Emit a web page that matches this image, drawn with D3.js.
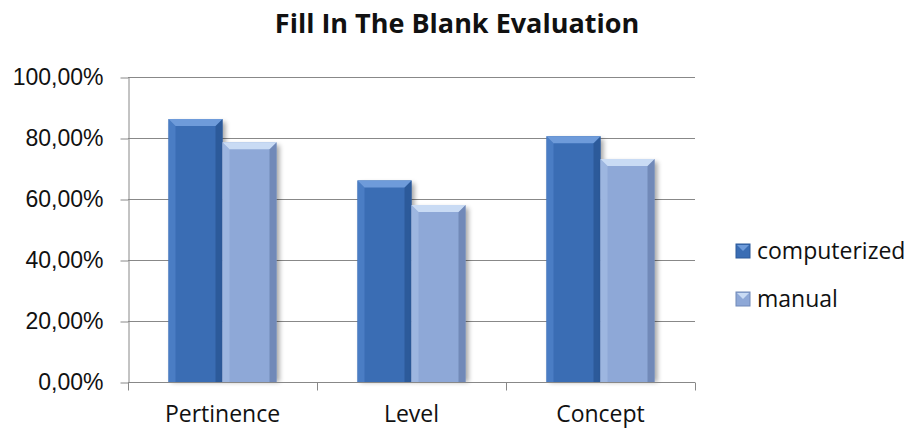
<!DOCTYPE html>
<meta charset="utf-8">
<head>
  <style>
    body { margin: 0; background: #fff; }
    svg { font-family: "Open Sans", sans-serif; }
    .grid line { stroke: #888; stroke-width: 1px; }
    .axis path, .axis line { stroke: #888; }
    .axis text { font-size: 23px; fill: #111; }
    .title { font-size: 27px; font-weight: bold; fill: #111; }
    .legend text { font-size: 23px; fill: #111; }
  </style>
  <script src="https://cdn.jsdelivr.net/npm/d3@7"></script>
</head>
<body>
<script>
  var categories = ["Pertinence", "Level", "Concept"]
    , seriesNames = ["computerized", "manual"]
    , computerized = [0.862, 0.661, 0.806]
    , manual = [0.786, 0.580, 0.731]
    , yTicks = [0, 0.2, 0.4, 0.6, 0.8, 1.0]
    ;

  var width = 911, height = 428
    , plot = {left: 128, right: 695, top: 77, bottom: 382}
    , colors = {
        computerized: {base: "#3A6DB4", top: "#6E9BDA", light: "#4A7DC4", dark: "#2C5A9A"},
        manual:       {base: "#8EA8D7", top: "#C9DBF4", light: "#9DB6E0", dark: "#7189B8"}
      };

  var svg = d3.select("body").append("svg")
      .attr("width", width)
      .attr("height", height);

  var defs = svg.append("defs");
  var blur = defs.append("filter").attr("id", "shadow")
      .attr("x", "-20%").attr("y", "-5%").attr("width", "150%").attr("height", "120%");
  blur.append("feGaussianBlur").attr("stdDeviation", 2.5);

  var x0 = d3.scaleBand().domain(categories).range([plot.left, plot.right]);
  var x1 = d3.scaleBand().domain(seriesNames).range([0, x0.bandwidth()]).paddingOuter(0.75).paddingInner(0);
  var y = d3.scaleLinear().domain([0, 1]).range([plot.bottom, plot.top]);

  // gridlines
  svg.append("g").attr("class", "grid")
    .selectAll("line").data(yTicks.slice(1)).enter().append("line")
      .attr("x1", plot.left).attr("x2", plot.right)
      .attr("y1", function(d){ return Math.round(y(d)) + 0.5; })
      .attr("y2", function(d){ return Math.round(y(d)) + 0.5; });

  var fmt = function(d){ return d3.format(".2f")(d * 100).replace(".", ",") + "%"; };

  var rows = [];
  categories.forEach(function(c, i){
    rows.push({cat: c, s: "computerized", v: computerized[i]});
    rows.push({cat: c, s: "manual", v: manual[i]});
  });

  var bars = svg.append("g").selectAll("g.bar").data(rows).enter().append("g").attr("class", "bar");

  // shadows
  bars.append("rect")
      .attr("x", function(d){ return x0(d.cat) + x1(d.s) + 3; })
      .attr("y", function(d){ return y(d.v) + 3; })
      .attr("width", x1.bandwidth())
      .attr("height", function(d){ return plot.bottom - y(d.v) - 3; })
      .attr("fill", "#000").attr("opacity", 0.35)
      .attr("filter", "url(#shadow)");

  bars.each(function(d){
    var g = d3.select(this)
      , bx = x0(d.cat) + x1(d.s)
      , bw = x1.bandwidth()
      , by = y(d.v)
      , bh = plot.bottom - by
      , b = 7
      , c = colors[d.s];
    g.append("rect").attr("x", bx).attr("y", by).attr("width", bw).attr("height", bh).attr("fill", c.base);
    // left bevel
    g.append("path").attr("d", "M" + [bx, by] + "L" + [bx + b, by + b] + "L" + [bx + b, by + bh] + "L" + [bx, by + bh] + "Z")
      .attr("fill", c.light);
    // right bevel
    g.append("path").attr("d", "M" + [bx + bw, by] + "L" + [bx + bw - b, by + b] + "L" + [bx + bw - b, by + bh] + "L" + [bx + bw, by + bh] + "Z")
      .attr("fill", c.dark);
    // top bevel
    g.append("path").attr("d", "M" + [bx, by] + "L" + [bx + bw, by] + "L" + [bx + bw - b, by + b] + "L" + [bx + b, by + b] + "Z")
      .attr("fill", c.top);
  });

  // axes
  svg.append("g").attr("class", "axis")
      .attr("transform", "translate(" + (plot.left + 0.5) + ",0)")
      .call(d3.axisLeft(y).tickValues(yTicks).tickFormat(fmt).tickSize(8).tickSizeOuter(0).tickPadding(17))
      .call(function(g){ g.selectAll(".tick line").attr("transform", "translate(0,0.5)"); });

  var xAxis = svg.append("g").attr("class", "axis")
      .attr("transform", "translate(0," + (plot.bottom + 0.5) + ")");
  xAxis.append("line").attr("x1", plot.left).attr("x2", plot.right).attr("stroke", "#888");
  xAxis.selectAll("line.tk").data(d3.range(categories.length + 1)).enter().append("line")
      .attr("class", "tk")
      .attr("x1", function(i){ return Math.round(plot.left + i * x0.step()) + 0.5; })
      .attr("x2", function(i){ return Math.round(plot.left + i * x0.step()) + 0.5; })
      .attr("y1", 0).attr("y2", 8);
  xAxis.selectAll("text").data(categories).enter().append("text")
      .attr("x", function(d){ return x0(d) + x0.bandwidth() / 2; })
      .attr("y", 39)
      .attr("text-anchor", "middle")
      .text(function(d){ return d; });

  svg.append("text").attr("class", "title")
      .attr("x", 457).attr("y", 33)
      .attr("text-anchor", "middle")
      .text("Fill In The Blank Evaluation");

  var legend = svg.append("g").attr("class", "legend")
    .selectAll("g").data(seriesNames).enter().append("g")
      .attr("transform", function(d, i){ return "translate(736," + (244 + i * 48) + ")"; });
  legend.append("rect").attr("width", 14).attr("height", 14)
      .attr("fill", function(d){ return colors[d].base; })
      .attr("stroke", function(d){ return colors[d].dark; });
  legend.append("path").attr("d", "M1,1L13,1L7,7Z")
      .attr("fill", function(d){ return colors[d].top; });
  legend.append("text").attr("x", 21).attr("y", 7).attr("dy", "0.35em")
      .text(function(d){ return d; });
</script>
</body>
